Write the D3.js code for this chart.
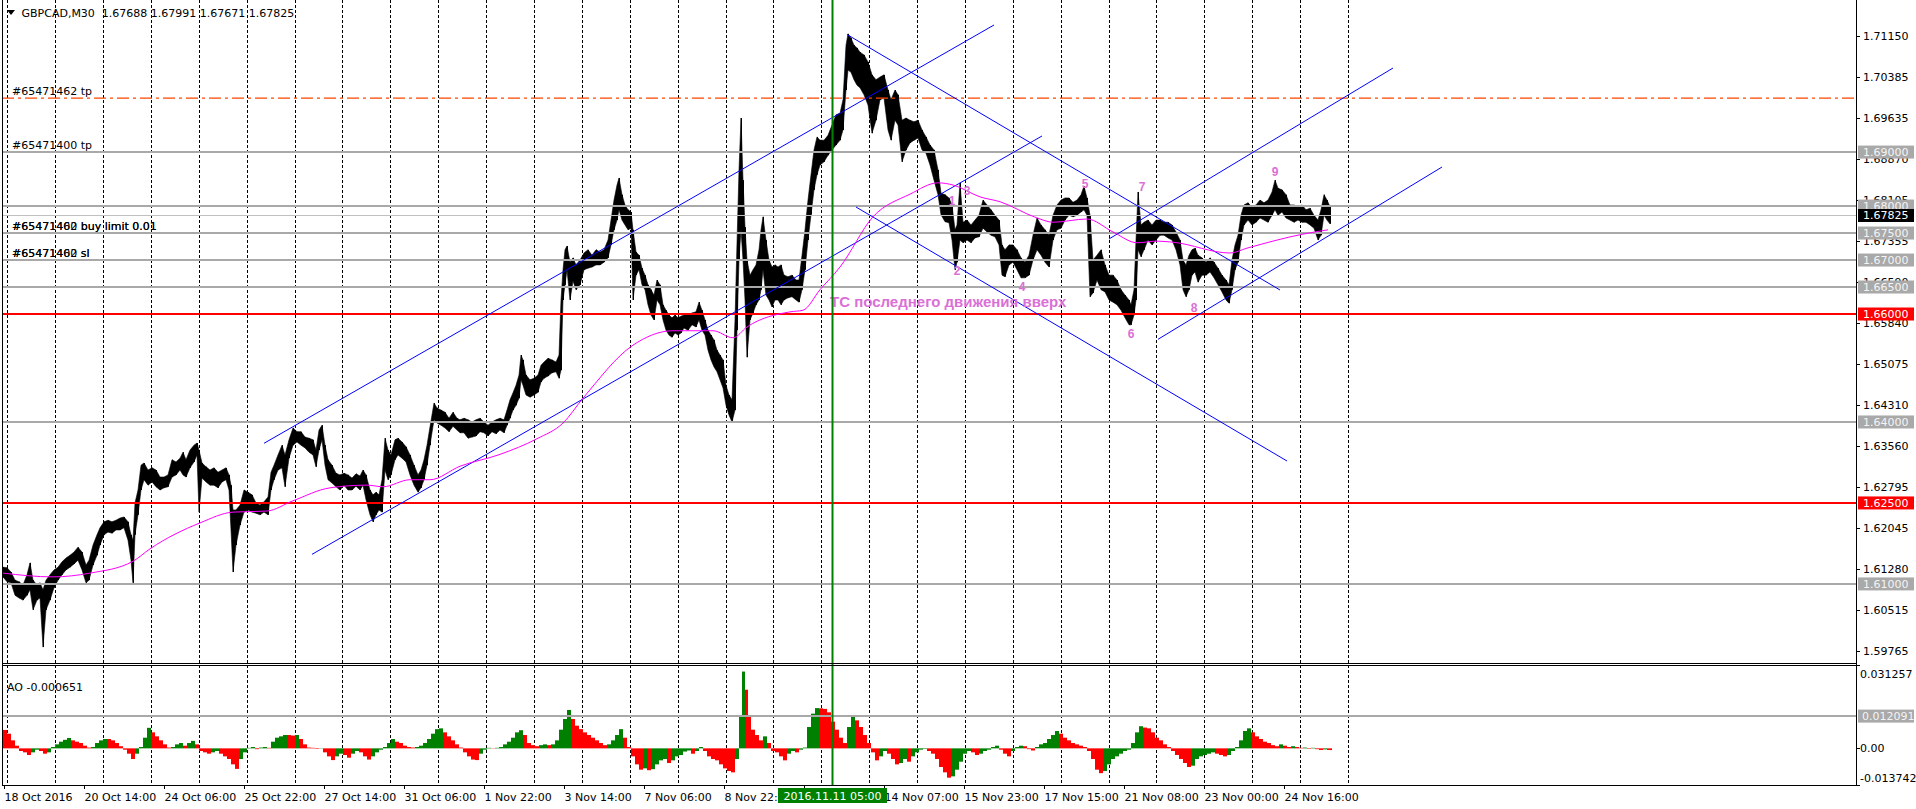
<!DOCTYPE html>
<html><head><meta charset="utf-8">
<script src="https://cdn.jsdelivr.net/npm/d3@7"></script>
<style>
html,body{margin:0;padding:0;background:#fff;overflow:hidden}
text{font-family:"DejaVu Sans",sans-serif;font-size:11px}
</style></head>
<body><svg id="chart" width="1916" height="809"></svg>
<script>
// ---------------- DATA ----------------
const symbolTitle = "GBPCAD,M30";
const ohlcLast = ["1.67688","1.67991","1.67671","1.67825"];
const aoTitle = "AO -0.000651";

// sampled M30 bars (bar number from chart start), high / low prices
const sampleBar = [
3,7,11,15,19,23,27,30,33,37,
40,43,46,50,54,58,62,66,70,74,
78,82,86,89,93,97,100,104,108,112,
116,120,124,128,131,133,135,138,141,144,
148,152,156,160,164,168,172,176,180,183,
186,190,194,197,199,202,206,210,214,218,
222,226,229,231,233,236,240,244,248,252,
256,260,264,268,271,274,278,282,285,289,
293,297,301,305,309,313,316,319,322,325,
328,332,336,340,344,348,352,356,360,363,
366,370,373,376,379,382,385,388,391,395,
398,402,406,410,414,418,421,424,427,430,
434,437,441,445,449,453,457,460,464,468,
472,476,480,484,488,492,496,500,504,507,
510,513,516,519,521,523,526,530,534,538,
541,544,548,552,556,559,561,563,565,567,
570,573,576,580,584,588,592,596,600,604,
608,611,614,617,619,622,625,628,631,633,
636,639,642,645,648,651,654,657,660,663,
666,669,672,675,678,681,684,688,692,696,
699,702,705,708,711,714,717,720,723,726,
729,732,735,737,739,741,743,745,747,750,
753,756,759,761,763,766,769,772,775,778,
781,784,788,792,796,799,802,805,808,811,
814,817,820,824,828,832,836,840,843,846,
848,851,854,857,860,864,868,872,876,880,
884,888,891,895,898,902,906,910,914,918,
922,926,930,934,938,941,945,949,952,955,
957,960,963,967,971,975,979,983,987,991,
995,999,1002,1005,1009,1013,1017,1021,1025,1029,
1033,1037,1041,1045,1049,1053,1057,1061,1065,1069,
1073,1077,1081,1084,1087,1090,1093,1097,1101,1105,
1109,1113,1117,1121,1125,1129,1131,1134,1136,1138,
1141,1144,1148,1152,1156,1160,1164,1168,1172,1176,
1180,1183,1186,1189,1192,1195,1198,1202,1206,1210,
1214,1218,1222,1226,1229,1232,1235,1238,1241,1244,
1248,1252,1256,1260,1264,1268,1272,1275,1278,1282,
1286,1290,1294,1298,1302,1306,1310,1314,1318,1321,
1324,1327,1330];
const sampleHigh = [
1.6131,1.6130,1.6122,1.6107,1.6104,1.6098,1.6117,1.6139,1.6107,1.6098,
1.6102,1.6089,1.6107,1.6117,1.6126,1.6131,1.6141,1.6148,1.6153,1.6159,
1.6168,1.6159,1.6135,1.6144,1.6172,1.6191,1.6204,1.6215,1.6218,1.6215,
1.6218,1.6222,1.6224,1.6215,1.6191,1.6181,1.6250,1.6274,1.6320,1.6324,
1.6311,1.6315,1.6311,1.6298,1.6298,1.6302,1.6330,1.6326,1.6333,1.6344,
1.6330,1.6348,1.6357,1.6361,1.6348,1.6324,1.6317,1.6311,1.6315,1.6307,
1.6311,1.6315,1.6302,1.6283,1.6237,1.6237,1.6246,1.6274,1.6270,1.6265,
1.6250,1.6246,1.6252,1.6261,1.6307,1.6320,1.6339,1.6357,1.6339,1.6367,
1.6389,1.6382,1.6382,1.6372,1.6370,1.6367,1.6348,1.6385,1.6394,1.6357,
1.6330,1.6320,1.6305,1.6302,1.6305,1.6302,1.6296,1.6304,1.6300,1.6311,
1.6302,1.6274,1.6265,1.6270,1.6265,1.6293,1.6370,1.6348,1.6339,1.6367,
1.6370,1.6363,1.6354,1.6339,1.6320,1.6302,1.6311,1.6330,1.6357,1.6391,
1.6435,1.6426,1.6422,1.6418,1.6407,1.6418,1.6407,1.6404,1.6407,1.6404,
1.6400,1.6404,1.6407,1.6400,1.6394,1.6400,1.6404,1.6407,1.6404,1.6422,
1.6441,1.6454,1.6468,1.6487,1.6524,1.6515,1.6487,1.6478,1.6481,1.6487,
1.6505,1.6511,1.6518,1.6515,1.6511,1.6524,1.6626,1.6682,1.6719,1.6726,
1.6696,1.6704,1.6691,1.6700,1.6713,1.6719,1.6709,1.6719,1.6715,1.6719,
1.6737,1.6774,1.6811,1.6839,1.6852,1.6821,1.6802,1.6793,1.6789,1.6756,
1.6715,1.6709,1.6685,1.6672,1.6654,1.6645,1.6635,1.6663,1.6654,1.6617,
1.6607,1.6598,1.6593,1.6598,1.6593,1.6596,1.6598,1.6598,1.6602,1.6604,
1.6622,1.6607,1.6589,1.6570,1.6561,1.6552,1.6533,1.6524,1.6515,1.6468,
1.6450,1.6441,1.6589,1.6732,1.6867,1.6963,1.6848,1.6761,1.6700,1.6672,
1.6682,1.6691,1.6719,1.6756,1.6780,1.6737,1.6700,1.6687,1.6691,1.6687,
1.6691,1.6672,1.6669,1.6672,1.6663,1.6663,1.6709,1.6756,1.6811,1.6858,
1.6904,1.6928,1.6922,1.6922,1.6931,1.6950,1.6969,1.6972,1.6997,1.7098,
1.7119,1.7111,1.7098,1.7093,1.7085,1.7080,1.7067,1.7043,1.7034,1.7039,
1.7043,1.7015,1.6997,1.7015,1.7006,1.6959,1.6963,1.6959,1.6956,1.6959,
1.6941,1.6928,1.6913,1.6904,1.6867,1.6824,1.6821,1.6815,1.6802,1.6756,
1.6765,1.6843,1.6770,1.6774,1.6765,1.6774,1.6783,1.6811,1.6802,1.6793,
1.6783,1.6774,1.6728,1.6719,1.6728,1.6728,1.6719,1.6704,1.6696,1.6709,
1.6746,1.6778,1.6765,1.6756,1.6746,1.6783,1.6802,1.6811,1.6815,1.6815,
1.6807,1.6811,1.6821,1.6837,1.6815,1.6783,1.6700,1.6709,1.6719,1.6691,
1.6672,1.6672,1.6663,1.6645,1.6635,1.6626,1.6617,1.6645,1.6737,1.6826,
1.6765,1.6770,1.6774,1.6765,1.6774,1.6774,1.6770,1.6770,1.6765,1.6752,
1.6737,1.6700,1.6691,1.6709,1.6719,1.6722,1.6709,1.6704,1.6696,1.6704,
1.6696,1.6685,1.6672,1.6663,1.6654,1.6700,1.6728,1.6746,1.6783,1.6802,
1.6806,1.6798,1.6802,1.6811,1.6806,1.6811,1.6826,1.6848,1.6833,1.6830,
1.6821,1.6802,1.6802,1.6798,1.6802,1.6793,1.6796,1.6783,1.6774,1.6793,
1.6821,1.6811,1.6799];
const sampleLow = [
1.6113,1.6104,1.6102,1.6079,1.6074,1.6070,1.6079,1.6089,1.6052,1.6070,
1.6074,1.5983,1.6052,1.6070,1.6093,1.6107,1.6117,1.6126,1.6131,1.6137,
1.6144,1.6126,1.6102,1.6107,1.6135,1.6153,1.6172,1.6191,1.6196,1.6194,
1.6200,1.6200,1.6204,1.6181,1.6144,1.6102,1.6191,1.6228,1.6274,1.6293,
1.6283,1.6289,1.6280,1.6274,1.6278,1.6280,1.6298,1.6302,1.6311,1.6302,
1.6298,1.6315,1.6326,1.6339,1.6233,1.6296,1.6289,1.6283,1.6283,1.6278,
1.6289,1.6293,1.6274,1.6200,1.6122,1.6172,1.6209,1.6233,1.6237,1.6233,
1.6231,1.6228,1.6233,1.6228,1.6274,1.6293,1.6311,1.6315,1.6280,1.6333,
1.6357,1.6363,1.6357,1.6352,1.6344,1.6339,1.6317,1.6348,1.6367,1.6320,
1.6293,1.6287,1.6280,1.6274,1.6283,1.6274,1.6274,1.6281,1.6274,1.6283,
1.6256,1.6228,1.6215,1.6228,1.6237,1.6233,1.6311,1.6293,1.6302,1.6330,
1.6339,1.6333,1.6326,1.6302,1.6283,1.6270,1.6278,1.6293,1.6320,1.6357,
1.6404,1.6398,1.6394,1.6389,1.6382,1.6392,1.6385,1.6380,1.6380,1.6370,
1.6372,1.6374,1.6382,1.6380,1.6374,1.6382,1.6378,1.6385,1.6380,1.6394,
1.6407,1.6422,1.6431,1.6444,1.6478,1.6468,1.6450,1.6446,1.6450,1.6455,
1.6474,1.6481,1.6485,1.6491,1.6493,1.6481,1.6496,1.6626,1.6654,1.6682,
1.6626,1.6661,1.6645,1.6654,1.6682,1.6685,1.6687,1.6691,1.6691,1.6696,
1.6704,1.6728,1.6756,1.6774,1.6793,1.6774,1.6765,1.6756,1.6759,1.6626,
1.6672,1.6682,1.6654,1.6645,1.6617,1.6598,1.6589,1.6626,1.6617,1.6589,
1.6570,1.6561,1.6557,1.6565,1.6561,1.6565,1.6574,1.6570,1.6580,1.6576,
1.6589,1.6570,1.6561,1.6533,1.6515,1.6502,1.6493,1.6478,1.6463,1.6431,
1.6413,1.6400,1.6422,1.6570,1.6700,1.6756,1.6700,1.6626,1.6520,1.6589,
1.6602,1.6617,1.6626,1.6645,1.6682,1.6635,1.6626,1.6613,1.6626,1.6626,
1.6617,1.6626,1.6630,1.6632,1.6626,1.6622,1.6645,1.6682,1.6737,1.6784,
1.6830,1.6858,1.6876,1.6882,1.6894,1.6904,1.6913,1.6922,1.6941,1.7015,
1.7052,1.7048,1.7034,1.7024,1.7019,1.7006,1.6987,1.6935,1.6959,1.6997,
1.7000,1.6941,1.6922,1.6959,1.6950,1.6882,1.6904,1.6917,1.6922,1.6926,
1.6904,1.6898,1.6876,1.6848,1.6821,1.6784,1.6771,1.6769,1.6737,1.6682,
1.6696,1.6737,1.6732,1.6737,1.6732,1.6741,1.6743,1.6759,1.6752,1.6746,
1.6743,1.6728,1.6672,1.6669,1.6691,1.6696,1.6682,1.6667,1.6667,1.6672,
1.6700,1.6719,1.6709,1.6696,1.6687,1.6737,1.6756,1.6759,1.6774,1.6783,
1.6780,1.6783,1.6789,1.6793,1.6783,1.6632,1.6639,1.6663,1.6645,1.6641,
1.6626,1.6622,1.6617,1.6607,1.6593,1.6580,1.6580,1.6598,1.6626,1.6719,
1.6706,1.6719,1.6737,1.6728,1.6737,1.6746,1.6746,1.6741,1.6737,1.6719,
1.6691,1.6645,1.6632,1.6645,1.6672,1.6678,1.6659,1.6672,1.6672,1.6678,
1.6667,1.6654,1.6641,1.6626,1.6620,1.6645,1.6682,1.6696,1.6737,1.6765,
1.6774,1.6765,1.6770,1.6778,1.6774,1.6770,1.6783,1.6793,1.6783,1.6789,
1.6778,1.6774,1.6770,1.6774,1.6770,1.6770,1.6765,1.6759,1.6737,1.6746,
1.6783,1.6774,1.6767];

// magenta moving average
const maBar = [3,53,90,133,150,200,233,267,293,330,367,383,410,430,460,500,537,563,583,632,673,713,733,747,790,803,820,840,873,910,938,953,980,1000,1037,1053,1087,1113,1137,1157,1173,1230,1247,1303,1328];
const maVal = [1.6120,1.6113,1.6120,1.6142,1.6165,1.6213,1.6233,1.6235,1.6254,1.6278,1.6283,1.6280,1.6293,1.6293,1.6318,1.6340,1.6369,1.6398,1.6444,1.6541,1.6569,1.6569,1.6556,1.6576,1.6604,1.6607,1.6645,1.6687,1.6780,1.6822,1.6843,1.6839,1.6817,1.6808,1.6778,1.6770,1.6776,1.6752,1.6732,1.6735,1.6733,1.6713,1.6722,1.6748,1.6756];

// Awesome Oscillator samples
const aoBar = [3,7,11,15,19,23,27,31,35,39,43,47,51,55,59,63,67,71,75,79,83,87,91,95,99,103,107,111,115,119,123,127,131,135,139,143,147,151,155,159,163,167,171,175,179,183,187,191,195,199,203,207,211,215,219,223,227,231,235,239,243,247,251,255,259,263,267,271,275,279,283,287,291,295,299,303,307,311,315,319,323,327,331,335,339,343,347,351,355,359,363,367,371,375,379,383,387,391,395,399,403,407,411,415,419,423,427,431,435,439,443,447,451,455,459,463,467,471,475,479,483,487,491,495,499,503,507,511,515,519,523,527,531,535,539,543,547,551,555,559,563,567,571,575,579,583,587,591,595,599,603,607,611,615,619,623,627,631,635,639,643,647,651,655,659,663,667,671,675,679,683,687,691,695,699,703,707,711,715,719,723,727,731,735,739,742,745,748,751,755,759,763,767,771,775,779,783,787,791,795,799,803,807,811,815,819,823,827,831,835,839,843,847,851,855,859,863,867,871,875,879,883,887,891,895,899,903,907,911,915,919,923,927,931,935,939,943,947,951,955,959,963,967,971,975,979,983,987,991,995,999,1003,1007,1011,1015,1019,1023,1027,1031,1035,1039,1043,1047,1051,1055,1059,1063,1067,1071,1075,1079,1083,1087,1091,1095,1099,1103,1107,1111,1115,1119,1123,1127,1131,1135,1139,1143,1147,1151,1155,1159,1163,1167,1171,1175,1179,1183,1187,1191,1195,1199,1203,1207,1211,1215,1219,1223,1227,1231,1235,1239,1243,1247,1251,1255,1259,1263,1267,1271,1275,1279,1283,1287,1291,1295,1299,1303,1307,1311,1315,1319,1323,1327,1330];
const aoVal = [0.0069,0.0055,0.003,0.001,-0.001,-0.0015,-0.0025,-0.0015,-0.0005,-0.001,-0.002,-0.0015,0.0005,0.0015,0.0025,0.0032,0.0039,0.003,0.0025,0.002,0.001,0.0003,0.0005,0.002,0.003,0.0035,0.0035,0.003,0.002,0.0008,-0.0005,-0.002,-0.004,-0.002,0.0005,0.004,0.0077,0.006,0.0045,0.003,0.0015,0.0003,0.0005,0.0015,0.002,0.001,0.002,0.0028,0.0015,-0.001,-0.0015,-0.002,-0.0015,-0.001,-0.002,-0.003,-0.004,-0.006,-0.0077,-0.004,-0.0015,0.0002,0.0005,-0.0003,0.0003,0.0005,0.0002,0.0025,0.004,0.0045,0.005,0.005,0.0048,0.005,0.0035,0.0015,0.0003,0.0002,-0.0002,0.0001,-0.0015,-0.003,-0.0044,-0.003,-0.002,-0.0025,-0.0035,-0.002,-0.001,-0.0015,-0.003,-0.0042,-0.003,-0.0015,-0.0005,0.0005,0.002,0.0035,0.0025,0.002,0.001,0.0005,0.0003,0.0005,0.001,0.002,0.0035,0.0055,0.0072,0.0075,0.006,0.0045,0.003,0.0015,0.0003,-0.0015,-0.003,-0.0042,-0.0044,-0.002,-0.0005,0.0002,0.0001,0.0002,0.0005,0.0015,0.0025,0.004,0.006,0.0068,0.005,0.002,0.0012,0.0008,0.0012,0.0015,0.0012,0.0015,0.003,0.007,0.011,0.0144,0.011,0.0085,0.0072,0.006,0.005,0.004,0.003,0.002,0.0012,0.0015,0.003,0.005,0.0072,0.004,0.0005,-0.003,-0.006,-0.008,-0.0075,-0.0082,-0.0078,-0.006,-0.0045,-0.004,-0.0055,-0.0045,-0.003,-0.0025,-0.0012,-0.0008,-0.002,-0.001,0.0005,-0.001,-0.003,-0.004,-0.0045,-0.006,-0.0075,-0.0085,-0.009,-0.004,0.012,0.0288,0.022,0.012,0.007,0.005,0.003,0.0045,0.002,-0.001,-0.0015,-0.003,-0.0045,-0.002,-0.001,-0.0015,-0.0005,0.0003,0.008,0.013,0.0151,0.015,0.0148,0.0135,0.01,0.007,0.004,0.002,0.008,0.0118,0.0105,0.008,0.005,0.002,-0.0015,-0.0045,-0.003,-0.001,-0.002,-0.004,-0.006,-0.0055,-0.004,-0.005,-0.003,-0.0015,-0.0005,-0.0002,-0.001,-0.002,-0.004,-0.007,-0.009,-0.011,-0.0105,-0.008,-0.005,-0.002,-0.001,-0.0015,-0.0025,-0.002,-0.001,-0.0005,0.0005,0.001,-0.0005,-0.002,-0.003,-0.001,0.0005,0.001,0.0008,-0.0003,-0.0008,0.0005,0.0015,0.002,0.0035,0.005,0.0065,0.0055,0.004,0.003,0.002,0.0015,0.001,0.0005,-0.001,-0.004,-0.008,-0.0093,-0.0085,-0.006,-0.004,-0.003,-0.002,-0.001,-0.0005,0.002,0.006,0.0083,0.0078,0.0075,0.006,0.004,0.003,0.0015,0.0005,-0.001,-0.0025,-0.004,-0.0055,-0.007,-0.0065,-0.004,-0.003,-0.0025,-0.002,-0.0015,-0.002,-0.0025,-0.003,-0.0025,-0.001,0.0005,0.003,0.0065,0.0075,0.006,0.0045,0.0035,0.0025,0.002,0.0012,0.0008,0.0015,0.001,0.0005,0.0008,0.0005,0.0002,0.0003,-0.0002,0.0002,-0.0003,-0.0006,-0.0004,-0.0006,-0.00065];

// price axis tick labels
const priceTicks = ["1.71150","1.70385","1.69635","1.68870","1.68105","1.67355","1.66590","1.65840","1.65075","1.64310","1.63560","1.62795","1.62045","1.61280","1.60515","1.59765"];
// horizontal levels
const grayLevels = [1.69, 1.68, 1.675, 1.67, 1.665, 1.64, 1.61];
const redLevels = [1.66, 1.625];
const tpLevel = 1.70;
const bidPrice = 1.67825;
const orderLabels = [
  {text:"#65471462 tp", price:1.70},
  {text:"#65471400 tp", price:1.69},
  {text:"#65471462 buy limit 0.01", price:1.675},
  {text:"#65471400 buy limit 0.01", price:1.675},
  {text:"#65471462 sl", price:1.67},
  {text:"#65471400 sl", price:1.67}
];
// trend channels: [bar1, price1, bar2, price2]
const trendLines = [
  [264, 1.63605, 994, 1.71354],
  [312, 1.61548, 1042, 1.69298],
  [847, 1.71178, 1280, 1.66445],
  [856, 1.67982, 1287, 1.63277],
  [1109, 1.67390, 1393, 1.70557],
  [1158, 1.65531, 1442, 1.68723]
];
const waveText = ["1","2","3","4","5","6","7","8","9"];
const waveBar = [952, 957, 967, 1022, 1085, 1131, 1142, 1194, 1275];
const wavePrice = [1.68112, 1.66815, 1.68284, 1.66506, 1.68421, 1.65643, 1.68358, 1.66125, 1.68636];
const noteText = "ТС последнего движения вверх";
const noteBar = 830, notePrice = 1.6623;
const markerBar = 832.5, markerLabel = "2016.11.11 05:00";
// time axis
const timeLabels = ["18 Oct 2016","20 Oct 14:00","24 Oct 06:00","25 Oct 22:00","27 Oct 14:00","31 Oct 06:00","1 Nov 22:00","3 Nov 14:00","7 Nov 06:00","8 Nov 22:00","10 Nov 14:00","14 Nov 07:00","15 Nov 23:00","17 Nov 15:00","21 Nov 08:00","23 Nov 00:00","24 Nov 16:00"];
const labelFirstBar = 3.6, barsPerLabel = 80, barsPerDay = 47.88, firstGridBar = 7.3, lastGridBar = 1352;
// AO axis
const aoMax = 0.031257, aoMin = -0.013742, aoLevel = 0.012091;

// ---------------- LAYOUT ----------------
const svg = d3.select("#chart");
const L = 2, R = 1856, mainTop = 0, mainBot = 663, aoTop = 665, aoBot = 785;
const x = d3.scaleLinear().domain([0, 1856]).range([0, 1856]);
const y = d3.scaleLinear().domain([1.59535, 1.71817]).range([mainBot, mainTop]);
const ya = d3.scaleLinear().domain([aoMin, aoMax]).range([aoBot, aoTop]);

const defs = svg.append("defs");
defs.append("clipPath").attr("id","cm").append("rect").attr("x",L).attr("y",mainTop).attr("width",R-L).attr("height",mainBot-mainTop);
defs.append("clipPath").attr("id","ca").append("rect").attr("x",L).attr("y",aoTop).attr("width",R-L).attr("height",aoBot-aoTop);

svg.append("rect").attr("width",1916).attr("height",809).attr("fill","#fff");

const gm = svg.append("g").attr("clip-path","url(#cm)");
const ga = svg.append("g").attr("clip-path","url(#ca)");

// vertical grid (only over the bars area)
const gridBars = d3.range(firstGridBar, lastGridBar, barsPerDay);
[gm, ga].forEach((g,k)=>{
  g.selectAll("line.grid").data(gridBars).enter().append("line")
    .attr("x1",d=>Math.round(x(d))+0.5).attr("x2",d=>Math.round(x(d))+0.5)
    .attr("y1",k?aoTop:mainTop).attr("y2",k?aoBot:mainBot)
    .attr("stroke","#000").attr("stroke-width",1).attr("stroke-dasharray","3,2");
});

// price (high-low envelope of M30 bars)
const idx = d3.range(Math.min(sampleBar.length, sampleHigh.length, sampleLow.length));
gm.append("path").datum(idx)
  .attr("d", d3.area().x(i=>x(sampleBar[i])).y0(i=>y(sampleLow[i])).y1(i=>y(sampleHigh[i])))
  .attr("fill","#000").attr("stroke","#000").attr("stroke-width",0.6).attr("stroke-linejoin","round");
gm.selectAll("line.bar").data(idx).enter().append("line")
  .attr("x1",i=>Math.round(x(sampleBar[i]))+0.5).attr("x2",i=>Math.round(x(sampleBar[i]))+0.5)
  .attr("y1",i=>y(sampleHigh[i])).attr("y2",i=>y(sampleLow[i]))
  .attr("stroke","#000").attr("stroke-width",1);

// level lines
gm.selectAll("line.gl").data(grayLevels).enter().append("line")
  .attr("x1",L).attr("x2",R).attr("y1",d=>y(d)).attr("y2",d=>y(d))
  .attr("stroke","#a9a9a9").attr("stroke-width",2);
gm.append("line").attr("x1",L).attr("x2",R).attr("y1",y(bidPrice)).attr("y2",y(bidPrice))
  .attr("stroke","#c0c0c0").attr("stroke-width",1);
gm.selectAll("line.rl").data(redLevels).enter().append("line")
  .attr("x1",L).attr("x2",R).attr("y1",d=>y(d)).attr("y2",d=>y(d))
  .attr("stroke","#ff0000").attr("stroke-width",2);
gm.append("line").attr("x1",L).attr("x2",R).attr("y1",y(tpLevel)).attr("y2",y(tpLevel))
  .attr("stroke","#ff4500").attr("stroke-width",1.2).attr("stroke-dasharray","12,4,3,4");

// trend channels
gm.selectAll("line.tl").data(trendLines).enter().append("line")
  .attr("x1",d=>x(d[0])).attr("y1",d=>y(d[1])).attr("x2",d=>x(d[2])).attr("y2",d=>y(d[3]))
  .attr("stroke","#0000ff").attr("stroke-width",1);

// moving average
gm.append("path").datum(d3.range(maBar.length))
  .attr("d", d3.line().x(i=>x(maBar[i])).y(i=>y(maVal[i])).curve(d3.curveMonotoneX))
  .attr("fill","none").attr("stroke","#ff00ff").attr("stroke-width",1);

// order labels
gm.selectAll("text.ol").data(orderLabels).enter().append("text")
  .attr("x",12).attr("y",d=>y(d.price)-3).attr("fill","#000").text(d=>d.text);

// wave labels
gm.selectAll("text.wv").data(waveText).enter().append("text")
  .attr("x",(d,i)=>x(waveBar[i])).attr("y",(d,i)=>y(wavePrice[i])+4.5)
  .attr("text-anchor","middle").attr("fill","#da70d6")
  .style("font-family","'Liberation Sans',Arial,sans-serif").style("font-size","12px").style("font-weight","bold")
  .text(d=>d);
gm.append("text").attr("x",x(noteBar)).attr("y",y(notePrice)+5)
  .attr("fill","#da70d6").style("font-family","'Liberation Sans',Arial,sans-serif")
  .style("font-size","15px").style("font-weight","bold").text(noteText);

// AO histogram
const aoIdx = d3.range(Math.min(aoBar.length, aoVal.length));
ga.selectAll("rect.ao").data(aoIdx).enter().append("rect")
  .attr("x",i=>x(aoBar[i]))
  .attr("width",i=> i<aoIdx.length-1 ? x(aoBar[i+1])-x(aoBar[i]) : 2)
  .attr("y",i=>ya(Math.max(0,aoVal[i])))
  .attr("height",i=>Math.abs(ya(aoVal[i])-ya(0)))
  .attr("fill",i=> (i>0 && aoVal[i] > aoVal[i-1]) ? "#008000" : "#ff0000");
ga.append("line").attr("x1",L).attr("x2",R).attr("y1",ya(aoLevel)).attr("y2",ya(aoLevel))
  .attr("stroke","#a9a9a9").attr("stroke-width",2);

// green vertical marker
svg.append("line").attr("x1",x(markerBar)).attr("x2",x(markerBar)).attr("y1",mainTop).attr("y2",aoBot)
  .attr("stroke","#008000").attr("stroke-width",2);

// frames
const fr = svg.append("g").attr("stroke","#000").attr("stroke-width",1).attr("fill","none");
fr.append("line").attr("x1",L+0.5).attr("x2",L+0.5).attr("y1",0).attr("y2",aoBot);
fr.append("line").attr("x1",R+0.5).attr("x2",R+0.5).attr("y1",0).attr("y2",aoBot+1);
fr.append("line").attr("x1",L).attr("x2",R).attr("y1",mainBot+0.5).attr("y2",mainBot+0.5);
fr.append("line").attr("x1",L).attr("x2",R).attr("y1",aoTop+0.5).attr("y2",aoTop+0.5);
fr.append("line").attr("x1",L).attr("x2",R+1).attr("y1",aoBot+0.5).attr("y2",aoBot+0.5);

// header
svg.append("path").attr("d","M7,10L15,10L11,15Z").attr("fill","#000");
svg.append("text").attr("x",21.5).attr("y",17).attr("fill","#000").style("white-space","pre")
  .text(symbolTitle + "  " + ohlcLast.join(" "));
svg.append("text").attr("x",7).attr("y",691).attr("fill","#000").text(aoTitle);

// right price axis
const ax = svg.append("g");
ax.selectAll("line.pt").data(priceTicks).enter().append("line")
  .attr("x1",R).attr("x2",R+4).attr("y1",d=>Math.round(y(+d))+0.5).attr("y2",d=>Math.round(y(+d))+0.5).attr("stroke","#000");
ax.selectAll("text.pt").data(priceTicks).enter().append("text")
  .attr("x",1863).attr("y",d=>y(+d)+4).attr("fill","#000").text(d=>d);

function priceBox(val, yy, bg, fg){
  ax.append("rect").attr("x",1858).attr("y",yy-6.5).attr("width",56).attr("height",13).attr("fill",bg);
  ax.append("text").attr("x",1863).attr("y",yy+4).attr("fill",fg).text(val);
}
grayLevels.forEach(p=>priceBox(p.toFixed(5), y(p), "#a9a9a9", "#f4f4f4"));
redLevels.forEach(p=>priceBox(p.toFixed(5), y(p), "#ff0000", "#ffffff"));
priceBox(bidPrice.toFixed(5), y(bidPrice), "#000000", "#ffffff");

// AO axis
[[aoMax, aoMax.toFixed(6), 674],[0,"0.00",ya(0)],[aoMin, aoMin.toFixed(6), 778]].forEach(d=>{
  ax.append("line").attr("x1",R).attr("x2",R+4).attr("y1",Math.round(ya(d[0]))+0.5).attr("y2",Math.round(ya(d[0]))+0.5).attr("stroke","#000");
  ax.append("text").attr("x",1860).attr("y",d[2]+4).attr("fill","#000").text(d[1]);
});
ax.append("rect").attr("x",1858).attr("y",ya(aoLevel)-6.5).attr("width",56).attr("height",13).attr("fill","#a9a9a9");
ax.append("text").attr("x",1862).attr("y",ya(aoLevel)+4).attr("fill","#f4f4f4").text(aoLevel.toFixed(6));

// time axis
const tx = svg.append("g");
timeLabels.forEach((t,i)=>{
  const b = labelFirstBar + i*barsPerLabel;
  tx.append("line").attr("x1",Math.round(x(b))+0.5).attr("x2",Math.round(x(b))+0.5).attr("y1",aoBot).attr("y2",aoBot+4).attr("stroke","#000");
  tx.append("text").attr("x",x(b)+1).attr("y",800.5).attr("fill","#000").text(t);
});
tx.append("rect").attr("x",x(markerBar)-54.5).attr("y",788).attr("width",109).attr("height",15).attr("fill","#008000");
tx.append("text").attr("x",x(markerBar)).attr("y",800).attr("text-anchor","middle").attr("fill","#fff").text(markerLabel);
</script>
</body></html>
